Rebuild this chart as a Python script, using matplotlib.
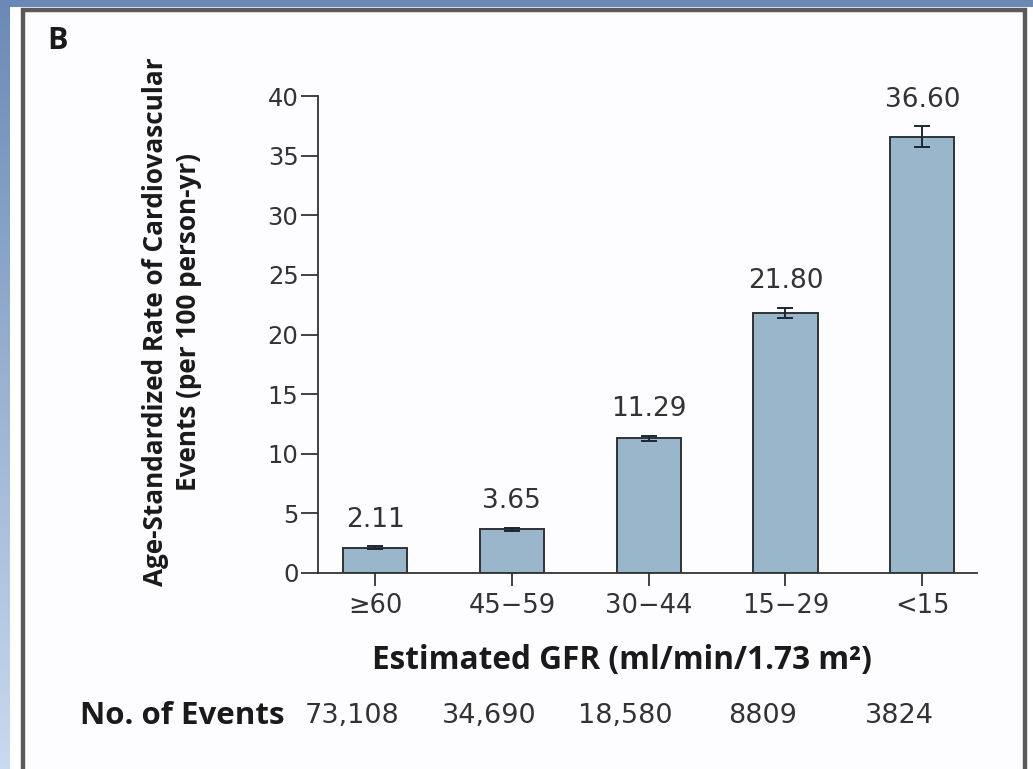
import numpy as np
import matplotlib
matplotlib.use("Agg")
import matplotlib.pyplot as plt
from matplotlib.patches import Rectangle

categories = ["\u226560", "45\u221259", "30\u221244", "15\u221229", "<15"]
rates = [2.11, 3.65, 11.29, 21.80, 36.60]
errors = [0.12, 0.12, 0.2, 0.45, 0.85]
rate_labels = ["2.11", "3.65", "11.29", "21.80", "36.60"]
events = ["73,108", "34,690", "18,580", "8809", "3824"]
yticks = [0, 5, 10, 15, 20, 25, 30, 35, 40]

W, H = 1033, 769
fig = plt.figure(figsize=(W / 100, H / 100), dpi=100)
fig.patch.set_facecolor("white")

# background gradient / frame
bg = fig.add_axes([0, 0, 1, 1], zorder=-10)
bg.set_xlim(0, W)
bg.set_ylim(H, 0)
bg.axis("off")
grad = np.linspace(0, 1, 256).reshape(-1, 1)
cmap = matplotlib.colors.LinearSegmentedColormap.from_list("g", ["#6a8ab6", "#c9d9ef"])
bg.imshow(grad, cmap=cmap, extent=[0, 10, H, 0], aspect="auto")
bg.add_patch(Rectangle((0, 0), W, 6.5, color="#6a8ab5", lw=0))
bg.add_patch(Rectangle((10, 7), W, H, color="white", lw=0))
bg.add_patch(Rectangle((23, 10), 1001.5, H + 10, facecolor="#fdfcfe",
                       edgecolor="#5a5a5a", lw=3.2))

num_font = "DejaVu Sans"
bold_font = ["Open Sans", "DejaVu Sans"]
txt_col = "#333333"
bold_col = "#1a1a1a"

ax = fig.add_axes([318 / W, 1 - 573 / H, (977 - 318) / W, (573 - 96) / H])
ax.set_facecolor("none")
x = np.arange(len(categories))
ax.bar(x, rates, width=0.47, color="#9ab6ca", edgecolor="#2e3338", lw=1.4, zorder=2)
ax.errorbar(x, rates, yerr=errors, fmt="none", ecolor="#1c2633", elinewidth=1.4,
            capsize=6, capthick=1.4, zorder=3)
for xi, v, e, lab in zip(x, rates, errors, rate_labels):
    ax.annotate(lab, (xi, v + e), xytext=(0, 10), textcoords="offset points",
                ha="center", va="bottom", fontsize=19, color=txt_col,
                family=num_font)

ax.set_xlim(-0.417, 4.40)
ax.set_ylim(0, 40)
ax.set_yticks(yticks)
ax.set_xticks(x)
ax.set_xticklabels(categories)
for s in ["top", "right"]:
    ax.spines[s].set_visible(False)
for s in ["left", "bottom"]:
    ax.spines[s].set_color(txt_col)
    ax.spines[s].set_linewidth(1.3)
ax.tick_params(axis="y", length=12, width=1.3, color=txt_col, pad=2,
               labelsize=17.5, labelcolor=txt_col)
ax.tick_params(axis="x", length=9.5, width=1.3, color=txt_col, pad=5,
               labelsize=18.5, labelcolor=txt_col)
for t in ax.get_xticklabels() + ax.get_yticklabels():
    t.set_family(num_font)

# labels
fig.text(57 / W, 1 - 41 / H, "B", fontsize=22, fontweight="bold", ha="center",
         va="center", family=bold_font, color=bold_col)
fig.text(172 / W, 1 - 322 / H,
         "Age-Standardized Rate of Cardiovascular\nEvents (per 100 person-yr)",
         rotation=90, ha="center", va="center", multialignment="center",
         fontsize=18.8, fontweight="bold", family=bold_font, color=bold_col,
         linespacing=1.25)
fig.text(622 / W, 1 - 660 / H, "Estimated GFR (ml/min/1.73 m\u00b2)", ha="center",
         va="center", fontsize=22.7, fontweight="bold", family=bold_font, color=bold_col)
fig.text(182 / W, 1 - 716 / H, "No. of Events", ha="center", va="center",
         fontsize=22.5, fontweight="bold", family=bold_font, color=bold_col)
for xi, ev in zip(x, events):
    ax.annotate(ev, (xi, 0), xycoords=("data", "axes fraction"),
                xytext=(-23, -(716 - 573)), textcoords="offset pixels",
                ha="center", va="center", fontsize=19.5, color=txt_col,
                family=num_font)

fig.savefig("out.png", dpi=100)
